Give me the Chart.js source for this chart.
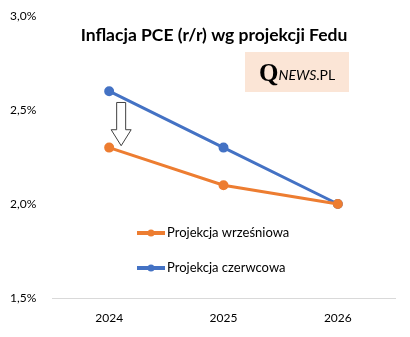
<!DOCTYPE html>
<html><head><meta charset="utf-8">
<script src="https://cdn.jsdelivr.net/npm/chart.js@4/dist/chart.umd.min.js"></script>
<style>html,body{margin:0;padding:0;background:#fff}#wrap{width:410px;height:337px;position:relative}</style>
</head><body><div id="wrap"><canvas id="c" width="410" height="337"></canvas></div>
<script>
const categories = ['2024', '2025', '2026'];
const septemberProjection = [2.3, 2.1, 2.0];
const juneProjection = [2.6, 2.3, 2.0];
const seriesNames = ['Projekcja wrześniowa', 'Projekcja czerwcowa'];
const titleText = 'Inflacja PCE (r/r) wg projekcji Fedu';
const yMin = 1.5, yMax = 3.0, yStep = 0.5;

const FONT = 'Lato, "Open Sans", sans-serif';
const ORANGE = '#ED7D31', BLUE = '#4472C4';

const overlay = {
  id: 'overlay',
  afterDraw(chart) {
    const ctx = chart.ctx, x = chart.scales.x, y = chart.scales.y;
    ctx.save();
    // title
    ctx.fillStyle = '#000';
    ctx.font = 'bold 17.5px ' + FONT;
    ctx.textAlign = 'center'; ctx.textBaseline = 'middle';
    ctx.fillText(titleText, 214, 35);
    // logo
    ctx.fillStyle = '#FBE5D6';
    ctx.fillRect(245, 52, 104, 40);
    ctx.fillStyle = '#000';
    ctx.textAlign = 'left'; ctx.textBaseline = 'alphabetic';
    ctx.font = 'bold 25px "Liberation Serif", serif';
    ctx.fillText('Q', 259, 81);
    let qx = 259 + ctx.measureText('Q').width;
    ctx.font = 'italic 14px ' + FONT;
    ctx.fillText('NEWS', qx, 80);
    qx += ctx.measureText('NEWS').width;
    ctx.font = '14px ' + FONT;
    ctx.fillText('.PL', qx, 80);
    // arrow
    const ax = x.getPixelForValue(0) + 12;
    const top = y.getPixelForValue(2.54), tip = y.getPixelForValue(2.31);
    const headTop = tip - 16;
    ctx.beginPath();
    ctx.moveTo(ax - 4.5, top); ctx.lineTo(ax + 4.5, top); ctx.lineTo(ax + 4.5, headTop);
    ctx.lineTo(ax + 10, headTop); ctx.lineTo(ax, tip); ctx.lineTo(ax - 10, headTop);
    ctx.lineTo(ax - 4.5, headTop); ctx.closePath();
    ctx.fillStyle = '#fff'; ctx.fill();
    ctx.strokeStyle = '#404040'; ctx.lineWidth = 1; ctx.stroke();
    // legend
    const items = chart.data.datasets;
    const lx = 137, ys = [233, 268];
    ctx.font = '13px ' + FONT; ctx.textBaseline = 'middle';
    items.forEach((ds, i) => {
      ctx.strokeStyle = ds.borderColor; ctx.lineWidth = 4;
      ctx.beginPath(); ctx.moveTo(lx, ys[i]); ctx.lineTo(lx + 28, ys[i]); ctx.stroke();
      ctx.fillStyle = ds.borderColor;
      ctx.beginPath(); ctx.arc(lx + 14, ys[i], 3.5, 0, Math.PI * 2); ctx.fill();
      ctx.fillStyle = '#000';
      ctx.fillText(ds.label, lx + 30, ys[i]);
    });
    ctx.restore();
  }
};

new Chart(document.getElementById('c'), {
  type: 'line',
  data: {
    labels: categories,
    datasets: [
      { label: seriesNames[0], data: septemberProjection, borderColor: ORANGE, backgroundColor: ORANGE, borderWidth: 3, pointRadius: 3.5, pointHoverRadius: 3.5, tension: 0 },
      { label: seriesNames[1], data: juneProjection, borderColor: BLUE, backgroundColor: BLUE, borderWidth: 3, pointRadius: 3.5, pointHoverRadius: 3.5, tension: 0 }
    ]
  },
  options: {
    responsive: false, animation: false, devicePixelRatio: 1,
    layout: { padding: { top: 16, right: 15, left: 10, bottom: 0 } },
    plugins: { legend: { display: false }, title: { display: false }, tooltip: { enabled: false } },
    scales: {
      x: {
        offset: true,
        grid: { display: false, drawTicks: false },
        border: { display: true, color: '#D9D9D9', width: 1 },
        ticks: { color: '#000', font: { family: FONT, size: 12 }, padding: 13 },
        afterFit(s) { s.height = 39; }
      },
      y: {
        min: yMin, max: yMax,
        grid: { display: false, drawTicks: false },
        border: { display: false },
        ticks: { stepSize: yStep, color: '#000', font: { family: FONT, size: 12 }, padding: 0, crossAlign: 'far',
          callback: v => v.toFixed(1).replace('.', ',') + '%' },
        afterFit(s) { s.width = 42; }
      }
    }
  },
  plugins: [overlay]
});
</script></body></html>
